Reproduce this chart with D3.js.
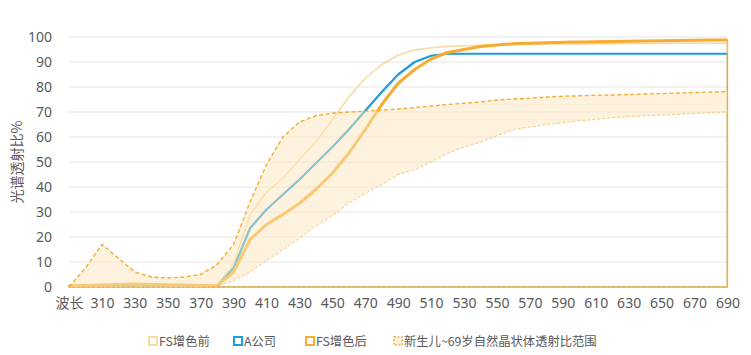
<!DOCTYPE html>
<html>
<head>
<meta charset="utf-8">
<script src="https://cdn.jsdelivr.net/npm/d3@7"></script>
<style>
	html, body { margin: 0; padding: 0; background: #fff; }
	svg { display: block; font-family: 'Noto Sans CJK SC', 'Noto Sans', sans-serif; }
</style>
</head>
<body>
<div id="chart"></div>
<script>
// Wavelength categories (first one is the axis name, as in the source sheet)
const categories = [ '波长', '300', '310', '320', '330', '340', '350', '360', '370', '380', '390',
	'400', '410', '420', '430', '440', '450', '460', '470', '480', '490', '500', '510', '520',
	'530', '540', '550', '560', '570', '580', '590', '600', '610', '620', '630', '640', '650',
	'660', '670', '680', '690' ];

const fsBefore = [ 0.3, 0.5, 0.6, 0.6, 0.7, 0.6, 0.6, 0.5, 0.5, 0.6, 9, 29, 38, 43.5, 51, 58,
	67, 76, 83.5, 89, 92.8, 94.8, 95.7, 96.2, 96.5, 96.7, 96.9, 97, 97.1, 97.1, 97.2, 97.2,
	97.3, 97.3, 97.4, 97.4, 97.4, 97.5, 97.5, 97.5, 97.5 ];

const companyA = [ 0.3, 0.3, 0.3, 0.3, 0.3, 0.3, 0.3, 0.3, 0.3, 0.5, 7.5, 23.5, 31, 37, 43,
	49.5, 56, 63, 70.5, 78, 85, 90, 92.5, 93.3, 93.3, 93.3, 93.3, 93.3, 93.3, 93.3, 93.3, 93.3,
	93.3, 93.3, 93.3, 93.3, 93.3, 93.3, 93.3, 93.3, 93.3 ];

const fsAfter = [ 0.5, 0.6, 0.8, 1, 1.2, 1, 0.9, 0.8, 0.6, 0.5, 6, 19, 25, 29, 33.5, 39, 45.5,
	53.5, 63, 73, 81.5, 87, 91.2, 93.8, 95, 96.2, 96.8, 97.3, 97.5, 97.7, 97.9, 98, 98.1, 98.2,
	98.3, 98.4, 98.5, 98.6, 98.7, 98.8, 98.8 ];

const bandLow = [ 0, 0, 0, 0, 0, 0, 0, 0, 0, 0.5, 2.5, 6, 10.5, 15, 19.5, 24.5, 28.5, 33.5,
	37.5, 41, 45, 47, 50, 53.5, 56, 58, 60.5, 63, 64, 65, 65.7, 66.5, 67, 67.7, 68.2, 68.5,
	68.8, 69.1, 69.4, 69.8, 70 ];

const bandHigh = [ 0, 7.6, 17, 11.5, 6, 4, 3.6, 4, 5, 9, 17, 34, 49, 60, 66, 68.5, 69.5, 70,
	70.3, 70.7, 71.2, 71.8, 72.4, 73, 73.5, 74, 74.8, 75.2, 75.5, 76, 76.3, 76.5, 76.7, 76.8,
	77, 77.2, 77.4, 77.6, 77.8, 78, 78.2 ];

const yTicks = [ 0, 10, 20, 30, 40, 50, 60, 70, 80, 90, 100 ];

const legendItems = [
	{ label: 'FS增色前', stroke: '#f9dba2', fill: '#fff', dash: null, x: 148 },
	{ label: 'A公司', stroke: '#1d9fdb', fill: '#fff', dash: null, x: 233 },
	{ label: 'FS增色后', stroke: '#f5ac30', fill: '#fff', dash: null, x: 305 },
	{ label: '新生儿~69岁自然晶状体透射比范围', stroke: '#f7c46c', fill: '#fdf2de', dash: '2,1.5', x: 393 },
];

const width = 751,
	height = 355;

const svg = d3.select( '#chart' )
	.append( 'svg' )
	.attr( 'width', width )
	.attr( 'height', height );

const x = d3.scalePoint()
	.domain( categories )
	.range( [ 69, 727.4 ] );

const y = d3.scaleLinear()
	.domain( [ 0, 100 ] )
	.range( [ 287, 37 ] );

// Grid lines
svg.append( 'g' )
	.selectAll( 'line' )
	.data( yTicks )
	.join( 'line' )
	.attr( 'x1', x.range()[ 0 ] )
	.attr( 'x2', x.range()[ 1 ] )
	.attr( 'y1', ( d ) => y( d ) )
	.attr( 'y2', ( d ) => y( d ) )
	.attr( 'stroke', '#e6e6e6' )
	.attr( 'stroke-width', 1.2 );

// Y axis labels
const yAxis = svg.append( 'g' )
	.attr( 'transform', 'translate(52,0)' )
	.call( d3.axisLeft( y ).tickValues( yTicks ).tickSize( 0 ).tickPadding( 0 ) );
yAxis.select( '.domain' ).remove();
yAxis.selectAll( 'text' )
	.attr( 'font-size', 14 )
	.attr( 'fill', '#595959' )
	.attr( 'font-family', "'Noto Sans', sans-serif" );

// X axis labels, every other category
const xAxis = svg.append( 'g' )
	.attr( 'transform', 'translate(0,298)' )
	.call( d3.axisBottom( x )
		.tickValues( categories.filter( ( d, i ) => i % 2 === 0 ) )
		.tickSize( 0 )
		.tickPadding( 0 ) );
xAxis.select( '.domain' ).remove();
xAxis.selectAll( 'text' )
	.attr( 'font-size', 14 )
	.attr( 'fill', '#595959' )
	.attr( 'font-family', ( d ) => ( d === '波长' ? "'Noto Sans CJK SC'" : "'Noto Sans', sans-serif" ) );

// Y axis title
svg.append( 'text' )
	.attr( 'transform', 'translate(22,162) rotate(-90)' )
	.attr( 'text-anchor', 'middle' )
	.attr( 'font-size', 14 )
	.attr( 'fill', '#595959' )
	.text( '光谱透射比%' );

// Area outlines (excel-like: line, then down to the baseline and back)
function outline( values ) {
	return d3.area()
		.x( ( d, i ) => x( categories[ i ] ) )
		.y0( y( 0 ) )
		.y1( ( d ) => y( d ) )( values );
}

function lineOf( values ) {
	return d3.line()
		.x( ( d, i ) => x( categories[ i ] ) )
		.y( ( d ) => y( d ) )( values );
}

function series( values, color, lineWidth, edgeWidth ) {
	// thin outline for the vertical edges and baseline
	svg.append( 'path' )
		.attr( 'd', outline( values ) )
		.attr( 'fill', 'none' )
		.attr( 'stroke', color )
		.attr( 'stroke-opacity', 0.8 )
		.attr( 'stroke-width', edgeWidth );
	svg.append( 'path' )
		.attr( 'd', lineOf( values ) )
		.attr( 'fill', 'none' )
		.attr( 'stroke', color )
		.attr( 'stroke-linejoin', 'round' )
		.attr( 'stroke-width', lineWidth );
}

series( fsBefore, '#f9dba2', 1.6, 1 );
series( companyA, '#1d9fdb', 2.2, 1.2 );
series( fsAfter, '#f5ac30', 3, 1.6 );

// Range band drawn on top, semi transparent
const band = d3.area()
	.x( ( d, i ) => x( categories[ i ] ) )
	.y0( ( d, i ) => y( bandLow[ i ] ) )
	.y1( ( d ) => y( d ) );

svg.append( 'path' )
	.attr( 'd', band( bandHigh ) )
	.attr( 'fill', '#fbe5bc' )
	.attr( 'fill-opacity', 0.5 );

svg.append( 'path' )
	.attr( 'd', outline( bandLow ) )
	.attr( 'fill', 'none' )
	.attr( 'stroke', '#f8c878' )
	.attr( 'stroke-width', 1 )
	.attr( 'stroke-dasharray', '3,2' );

svg.append( 'path' )
	.attr( 'd', lineOf( bandHigh ) )
	.attr( 'fill', 'none' )
	.attr( 'stroke', '#f5ac30' )
	.attr( 'stroke-width', 1.4 )
	.attr( 'stroke-dasharray', '4,2.5' );

svg.append( 'line' )
	.attr( 'x1', x( '690' ) )
	.attr( 'x2', x( '690' ) )
	.attr( 'y1', y( bandHigh[ bandHigh.length - 1 ] ) )
	.attr( 'y2', y( 0 ) )
	.attr( 'stroke', '#f5ac30' )
	.attr( 'stroke-width', 1 )
	.attr( 'stroke-dasharray', '3,2' );

// Legend
const legend = svg.append( 'g' );
const item = legend.selectAll( 'g' )
	.data( legendItems )
	.join( 'g' )
	.attr( 'transform', ( d ) => `translate(${ d.x },336)` );

item.append( 'rect' )
	.attr( 'x', 1 )
	.attr( 'y', 1 )
	.attr( 'width', 8 )
	.attr( 'height', 8 )
	.attr( 'fill', ( d ) => d.fill )
	.attr( 'stroke', ( d ) => d.stroke )
	.attr( 'stroke-width', 2 )
	.attr( 'stroke-dasharray', ( d ) => d.dash );

item.append( 'text' )
	.attr( 'x', 11 )
	.attr( 'y', 10 )
	.attr( 'font-size', 12.3 )
	.attr( 'fill', '#595959' )
	.text( ( d ) => d.label );
</script>
</body>
</html>
